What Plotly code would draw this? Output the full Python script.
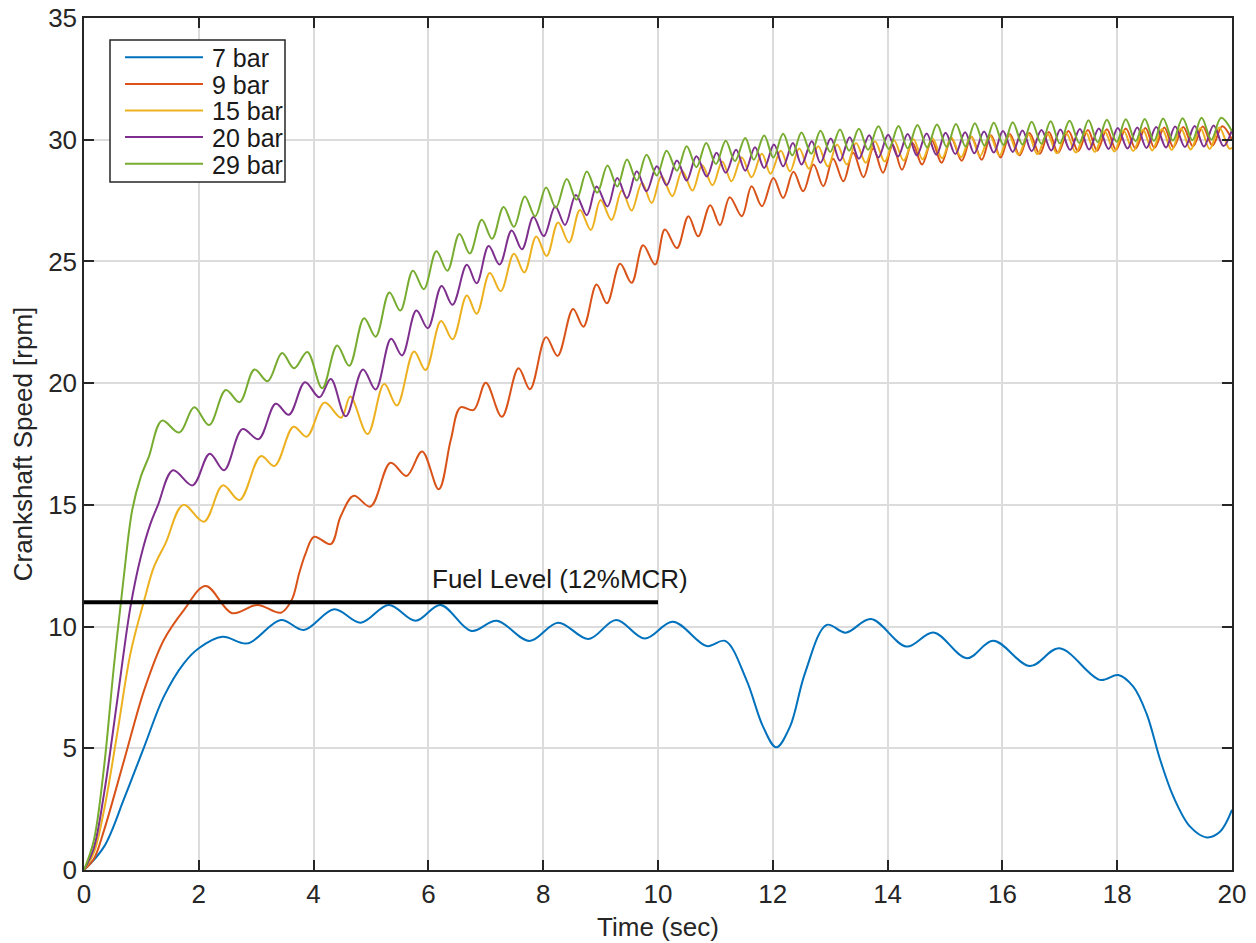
import plotly.graph_objects as go

# ---------------- data ----------------
series_names = ["7 bar", "9 bar", "15 bar", "20 bar", "29 bar"]
series_colors = ["#0072BD", "#D95319", "#EDB120", "#7E2F8E", "#77AC30"]

t_7bar = [0, 0.35, 0.70, 1.05, 1.39, 1.74, 2.0, 2.41, 2.85, 3.43, 3.83, 4.36, 4.82, 5.31, 5.78,
          6.21, 6.75, 7.19, 7.76, 8.26, 8.79, 9.27, 9.77, 10.26, 10.85, 11.17, 11.54, 11.83,
          12.06, 12.3, 12.56, 12.94, 13.27, 13.71, 14.33, 14.8, 15.38, 15.84, 16.48, 16.99,
          17.7, 18.02, 18.28, 18.51, 18.75, 18.98, 19.27, 19.56, 19.79, 20.0]
v_7bar = [0, 0.96, 2.94, 5.07, 7.12, 8.49, 9.11, 9.58, 9.31, 10.27, 9.86, 10.71, 10.16, 10.89, 10.24,
          10.89, 9.82, 10.24, 9.41, 10.16, 9.49, 10.27, 9.51, 10.2, 9.2, 9.41, 7.81, 5.89,
          5.04, 5.89, 8.08, 10.07, 9.75, 10.31, 9.18, 9.76, 8.7, 9.42, 8.38, 9.11,
          7.81, 8.01, 7.53, 6.43, 4.52, 3.01, 1.78, 1.34, 1.57, 2.47]

t_9bar = [0, 0.17, 0.35, 0.70, 1.05, 1.39, 1.74, 2.12, 2.58, 3.02, 3.43, 3.62, 3.75, 3.86, 4.01,
          4.30, 4.47, 4.70, 4.99, 5.34, 5.62, 5.89, 6.18, 6.39, 6.56, 6.79, 7.0, 7.28, 7.57, 7.77,
          8.05, 8.25, 8.52, 8.70, 8.93, 9.11, 9.34, 9.54, 9.74, 9.95, 10.12, 10.33, 10.53, 10.70,
          10.91, 11.08, 11.25, 11.46, 11.63, 11.81, 12.01, 12.18, 12.36, 12.53, 12.71, 12.88,
          13.05, 13.23, 13.40, 13.58, 13.75, 13.92, 14.09, 14.25, 14.43, 14.60, 14.77, 14.94,
          15.11, 15.29, 15.46, 15.64, 15.80, 15.97, 16.13, 16.30, 16.47, 16.65, 16.81, 16.97,
          17.15, 17.32, 17.49, 17.65, 17.82, 17.98, 18.15, 18.32, 18.49, 18.65, 18.82, 18.98,
          19.15, 19.32, 19.49, 19.66, 19.83, 20.0]
v_9bar = [0, 0.45, 1.64, 4.52, 7.4, 9.45, 10.68, 11.67, 10.55, 10.89, 10.57, 11.1, 12.2, 13.0, 13.69,
          13.39, 14.52, 15.37, 14.93, 16.73, 16.19, 17.19, 15.64, 17.67, 19.01, 18.9, 20.02, 18.62, 20.61, 19.75,
          21.89, 21.12, 23.05, 22.32, 24.05, 23.28, 24.9, 24.12, 25.66, 24.87, 26.31, 25.55, 26.86, 26.03,
          27.31, 26.49, 27.64, 26.86, 28.09, 27.27, 28.43, 27.61, 28.68, 27.88, 28.98, 28.09,
          29.22, 28.29, 29.46, 28.46, 29.64, 28.64, 29.78, 28.77, 29.88, 28.98, 29.97, 29.05,
          30.05, 29.14, 30.12, 29.18, 30.18, 29.27, 30.23, 29.36, 30.28, 29.42, 30.32, 29.46,
          30.36, 29.53, 30.4, 29.55, 30.43, 29.59, 30.46, 29.64, 30.48, 29.66, 30.5, 29.69,
          30.52, 29.73, 30.54, 29.76, 30.55, 30.0]

t_15bar = [0, 0.17, 0.35, 0.58, 0.81, 1.05, 1.22, 1.42, 1.73, 2.09, 2.42, 2.71, 3.08, 3.32, 3.65, 3.88,
           4.19, 4.48, 4.64, 4.94, 5.23, 5.45, 5.75, 5.95, 6.22, 6.42, 6.67, 6.84, 7.07, 7.26, 7.49,
           7.67, 7.88, 8.06, 8.26, 8.45, 8.64, 8.83, 9.0, 9.19, 9.37, 9.54, 9.72, 9.89, 10.06, 10.25,
           10.42, 10.60, 10.77, 10.95, 11.12, 11.28, 11.46, 11.63, 11.81, 11.96, 12.14, 12.30, 12.46,
           12.63, 12.79, 12.96, 13.12, 13.29, 13.45, 13.62, 13.78, 13.95, 14.11, 14.28, 14.45, 14.61,
           14.78, 14.95, 15.11, 15.28, 15.45, 15.61, 15.78, 15.95, 16.11, 16.28, 16.45, 16.61, 16.78,
           16.95, 17.11, 17.28, 17.45, 17.61, 17.78, 17.95, 18.11, 18.28, 18.45, 18.61, 18.78, 18.95,
           19.11, 19.28, 19.45, 19.61, 19.78, 19.95, 20.0]
v_15bar = [0, 0.7, 2.47, 5.62, 8.9, 11.09, 12.46, 13.42, 15.0, 14.31, 15.8, 15.2, 17.0, 16.6, 18.21, 17.8,
           19.2, 18.58, 19.45, 17.91, 19.97, 19.08, 21.3, 20.54, 22.55, 21.8, 23.6, 22.85, 24.52, 23.78, 25.32,
           24.55, 26.02, 25.22, 26.6, 25.78, 27.11, 26.29, 27.52, 26.7, 27.91, 27.09, 28.23, 27.4, 28.5, 27.68,
           28.73, 27.91, 28.95, 28.13, 29.11, 28.29, 29.27, 28.46, 29.42, 28.6, 29.55, 28.7, 29.64,
           28.81, 29.73, 28.9, 29.8, 28.98, 29.87, 29.05, 29.94, 29.1, 29.98, 29.15, 30.02, 29.2,
           30.06, 29.24, 30.1, 29.28, 30.14, 29.32, 30.17, 29.35, 30.2, 29.38, 30.23, 29.41, 30.26,
           29.44, 30.29, 29.47, 30.32, 29.5, 30.35, 29.52, 30.38, 29.54, 30.41, 29.56, 30.44, 29.58,
           30.46, 29.6, 30.48, 29.62, 30.5, 29.64, 29.66]

t_20bar = [0, 0.17, 0.35, 0.58, 0.81, 0.99, 1.16, 1.29, 1.55, 1.89, 2.19, 2.44, 2.76, 3.04, 3.34, 3.57,
           3.85, 4.10, 4.30, 4.56, 4.86, 5.08, 5.35, 5.54, 5.79, 5.99, 6.23, 6.42, 6.67, 6.84, 7.05,
           7.24, 7.45, 7.63, 7.83, 8.01, 8.21, 8.38, 8.57, 8.76, 8.93, 9.12, 9.29, 9.46, 9.63, 9.80,
           9.98, 10.15, 10.33, 10.50, 10.67, 10.85, 11.02, 11.18, 11.36, 11.52, 11.69, 11.85, 12.02,
           12.18, 12.35, 12.50, 12.68, 12.83, 13.01, 13.17, 13.34, 13.50, 13.68, 13.84, 14.01, 14.18,
           14.35, 14.51, 14.68, 14.85, 15.01, 15.18, 15.35, 15.51, 15.68, 15.85, 16.01, 16.18, 16.35,
           16.51, 16.68, 16.85, 17.01, 17.18, 17.35, 17.51, 17.68, 17.85, 18.01, 18.18, 18.35, 18.51,
           18.68, 18.85, 19.01, 19.18, 19.35, 19.51, 19.68, 19.85, 20.0]
v_20bar = [0, 0.9, 3.15, 6.98, 10.82, 12.87, 14.24, 15.0, 16.42, 15.8, 17.1, 16.42, 18.11, 17.7, 19.15, 18.7,
           20.04, 19.42, 20.17, 18.64, 20.56, 19.74, 21.82, 21.14, 22.98, 22.26, 23.99, 23.22, 24.86, 24.1, 25.63,
           24.87, 26.27, 25.5, 26.82, 26.04, 27.26, 26.5, 27.73, 26.9, 28.08, 27.26, 28.43, 27.6, 28.7, 27.88,
           28.91, 28.13, 29.15, 28.32, 29.32, 28.49, 29.46, 28.64, 29.59, 28.73, 29.69, 28.84, 29.8,
           28.91, 29.87, 28.98, 29.94, 29.05, 30.05, 29.14, 30.1, 29.22, 30.18, 29.27, 30.2, 29.31,
           30.23, 29.35, 30.26, 29.38, 30.29, 29.41, 30.31, 29.44, 30.34, 29.47, 30.36, 29.5, 30.38,
           29.53, 30.4, 29.56, 30.42, 29.58, 30.44, 29.6, 30.46, 29.62, 30.48, 29.64, 30.5, 29.66,
           30.52, 29.68, 30.54, 29.7, 30.56, 29.72, 30.58, 29.74, 30.4]

t_29bar = [0, 0.17, 0.35, 0.52, 0.70, 0.84, 0.99, 1.13, 1.36, 1.66, 1.92, 2.18, 2.47, 2.71, 2.97, 3.20,
           3.45, 3.66, 3.89, 4.15, 4.41, 4.62, 4.88, 5.08, 5.32, 5.51, 5.73, 5.92, 6.14, 6.33, 6.54,
           6.72, 6.93, 7.11, 7.31, 7.49, 7.68, 7.86, 8.05, 8.22, 8.41, 8.58, 8.76, 8.94, 9.12, 9.29,
           9.46, 9.63, 9.80, 9.98, 10.15, 10.33, 10.50, 10.67, 10.84, 11.01, 11.18, 11.34, 11.52,
           11.67, 11.85, 12.01, 12.18, 12.34, 12.50, 12.67, 12.83, 13.0, 13.17, 13.33, 13.50, 13.66,
           13.84, 14.02, 14.19, 14.35, 14.52, 14.69, 14.86, 15.03, 15.19, 15.36, 15.52, 15.69, 15.85,
           16.02, 16.18, 16.35, 16.51, 16.68, 16.84, 17.0, 17.17, 17.34, 17.50, 17.66, 17.82, 17.99,
           18.15, 18.32, 18.48, 18.64, 18.80, 18.97, 19.14, 19.31, 19.47, 19.64, 19.81, 20.0]
v_29bar = [0, 1.2, 4.25, 8.35, 12.19, 14.79, 16.16, 16.98, 18.46, 17.97, 19.01, 18.28, 19.72, 19.22, 20.56, 20.08,
           21.24, 20.61, 21.28, 19.79, 21.55, 20.71, 22.67, 21.91, 23.72, 22.98, 24.62, 23.86, 25.42, 24.62, 26.13,
           25.33, 26.71, 25.93, 27.24, 26.42, 27.67, 26.85, 28.04, 27.21, 28.39, 27.53, 28.69, 27.82, 28.94, 28.08,
           29.19, 28.32, 29.38, 28.53, 29.55, 28.73, 29.73, 28.87, 29.87, 29.0, 29.96, 29.12, 30.07,
           29.18, 30.17, 29.27, 30.24, 29.36, 30.3, 29.42, 30.37, 29.5, 30.42, 29.55, 30.45, 29.59,
           30.55, 29.62, 30.56, 29.65, 30.6, 29.68, 30.62, 29.7, 30.65, 29.72, 30.68, 29.75, 30.7,
           29.78, 30.72, 29.8, 30.74, 29.83, 30.76, 29.85, 30.78, 29.87, 30.8, 29.9, 30.82, 29.92,
           30.84, 29.94, 30.85, 29.95, 30.87, 29.97, 30.88, 29.98, 30.9, 30.0, 30.9, 30.35]

fuel_t = [0, 10]
fuel_v = [11, 11]
fuel_label = "Fuel Level (12%MCR)"

x_ticks = list(range(0, 21, 2))
y_ticks = list(range(0, 36, 5))

# ---------------- figure ----------------
FONT = "Liberation Sans, Arial, Helvetica, sans-serif"
W, H = 1256, 943
ML, MR, MT, MB = 84, 24, 18, 73
PW, PH = W - ML - MR, H - MT - MB


def px_x(p):  # pixel column -> paper x
    return (p - ML) / PW


def px_y(p):  # pixel row -> paper y
    return (H - MB - p) / PH


fig = go.Figure()

all_t = [t_7bar, t_9bar, t_15bar, t_20bar, t_29bar]
all_v = [v_7bar, v_9bar, v_15bar, v_20bar, v_29bar]
for name, color, tt, vv in zip(series_names, series_colors, all_t, all_v):
    fig.add_trace(go.Scatter(x=tt, y=vv, mode="lines", name=name, showlegend=False,
                             line=dict(color=color, width=2, shape="spline", smoothing=1.0)))

fig.add_trace(go.Scatter(x=fuel_t, y=fuel_v, mode="lines", showlegend=False,
                         line=dict(color="black", width=4), hoverinfo="skip"))

fig.add_annotation(x=6.02, y=11.95, xref="x", yref="y", text=fuel_label, showarrow=False,
                   xanchor="left", yanchor="middle", font=dict(family=FONT, size=26, color="#1a1a1a"))

# ---- MATLAB-style legend box (upper left) ----
shapes = [dict(type="rect", xref="paper", yref="paper",
               x0=px_x(110), x1=px_x(285), y0=px_y(182), y1=px_y(40),
               line=dict(color="#262626", width=1.5), fillcolor="white", layer="above")]
row_y = [57.3, 83.9, 110.5, 137.1, 163.7]
for name, color, ry in zip(series_names, series_colors, row_y):
    shapes.append(dict(type="line", xref="paper", yref="paper",
                       x0=px_x(125), x1=px_x(203), y0=px_y(ry), y1=px_y(ry),
                       line=dict(color=color, width=2), layer="above"))
    fig.add_annotation(x=px_x(210), y=px_y(ry + 1), xref="paper", yref="paper", text=name,
                       showarrow=False, xanchor="left", yanchor="middle",
                       font=dict(family=FONT, size=25, color="#1a1a1a"))

axis_common = dict(showline=True, linecolor="#262626", linewidth=1.5, mirror="ticks",
                   ticks="inside", ticklen=10, tickwidth=1.5, tickcolor="#262626",
                   showgrid=True, gridcolor="#dcdcdc", gridwidth=1.5, zeroline=False,
                   automargin=False,
                   tickfont=dict(family=FONT, size=26, color="#262626"))

fig.update_xaxes(range=[0, 20], tickvals=x_ticks, ticktext=[str(v) for v in x_ticks],
                 title=dict(text="Time (sec)", font=dict(family=FONT, size=26, color="#262626"), standoff=10),
                 **axis_common)
fig.update_yaxes(range=[0, 35], tickvals=y_ticks, ticktext=[str(v) for v in y_ticks],
                 title=dict(text="Crankshaft Speed [rpm]", font=dict(family=FONT, size=26, color="#262626"), standoff=8),
                 **axis_common)

fig.update_layout(
    width=W, height=H, autosize=False,
    margin=dict(l=ML, r=MR, t=MT, b=MB, autoexpand=False),
    paper_bgcolor="white", plot_bgcolor="white",
    showlegend=False,
    shapes=shapes,
)

fig.write_html("out.html")
